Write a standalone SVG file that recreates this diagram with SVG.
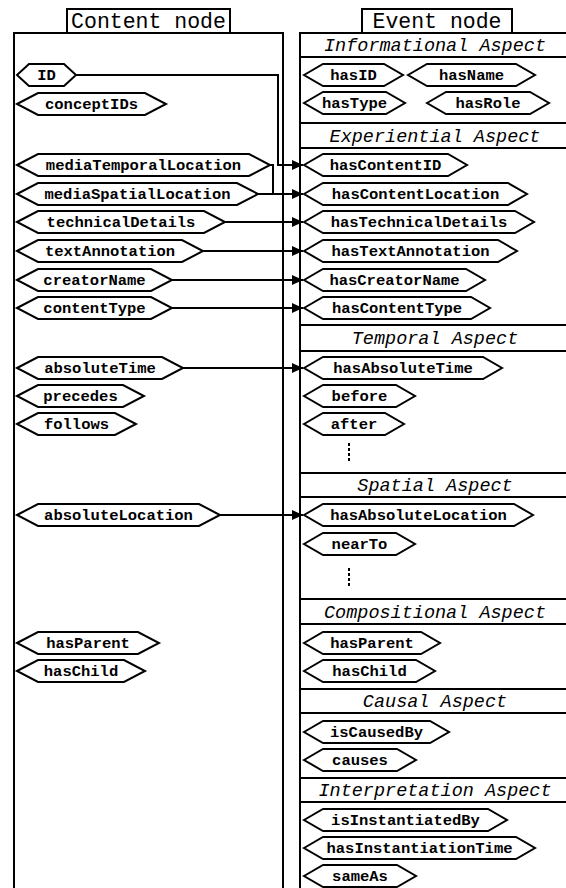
<svg xmlns="http://www.w3.org/2000/svg" width="566" height="888" viewBox="0 0 566 888">
<style>
.box{fill:#fff;stroke:#000;stroke-width:2}
.hx{fill:#fff;stroke:#000;stroke-width:2;stroke-linejoin:miter}
.lb{font-family:"Liberation Mono","Courier New",monospace;font-weight:bold;font-size:15.5px;text-anchor:middle;fill:#000}
.hd{font-family:"Liberation Mono","Courier New",monospace;font-style:italic;font-size:18.5px;text-anchor:middle;fill:#000}
.tt{font-family:"Liberation Mono","Courier New",monospace;font-size:21.5px;text-anchor:middle;fill:#000}
.sep{stroke:#000;stroke-width:2}
.cn{fill:none;stroke:#000;stroke-width:2}
.dot{stroke:#000;stroke-width:2;stroke-dasharray:3 2}
</style>
<defs>
<marker id="ah" markerUnits="userSpaceOnUse" markerWidth="11" markerHeight="10" refX="11" refY="5" orient="auto">
<path d="M0,0 L11,5 L0,10 z" fill="#000"/>
</marker>
</defs>
<rect width="566" height="888" fill="#fff"/>

<g id="content-node">
<rect class="box" x="14" y="33" width="269" height="870"/>
<rect class="box" x="67" y="9" width="163" height="24"/>
<text class="tt" x="148.5" y="27.5">Content node</text>
</g>

<g id="event-node">
<rect class="box" x="300" y="33" width="280" height="870"/>
<rect class="box" x="362" y="9" width="150" height="24"/>
<text class="tt" x="437" y="27.5">Event node</text>
<line class="sep" x1="300" y1="57" x2="566" y2="57"/>
<line class="sep" x1="300" y1="123" x2="566" y2="123"/>
<line class="sep" x1="300" y1="148" x2="566" y2="148"/>
<line class="sep" x1="300" y1="325" x2="566" y2="325"/>
<line class="sep" x1="300" y1="351" x2="566" y2="351"/>
<line class="sep" x1="300" y1="473" x2="566" y2="473"/>
<line class="sep" x1="300" y1="497" x2="566" y2="497"/>
<line class="sep" x1="300" y1="599" x2="566" y2="599"/>
<line class="sep" x1="300" y1="624" x2="566" y2="624"/>
<line class="sep" x1="300" y1="689" x2="566" y2="689"/>
<line class="sep" x1="300" y1="713" x2="566" y2="713"/>
<line class="sep" x1="300" y1="778" x2="566" y2="778"/>
<line class="sep" x1="300" y1="802" x2="566" y2="802"/>
<text class="hd" x="435" y="51">Informational Aspect</text>
<text class="hd" x="435" y="141.5">Experiential Aspect</text>
<text class="hd" x="435" y="344">Temporal Aspect</text>
<text class="hd" x="435" y="491">Spatial Aspect</text>
<text class="hd" x="435" y="617.5">Compositional Aspect</text>
<text class="hd" x="435" y="707">Causal Aspect</text>
<text class="hd" x="435" y="796">Interpretation Aspect</text>
<line class="dot" x1="349" y1="443" x2="349" y2="463"/>
<line class="dot" x1="349" y1="568" x2="349" y2="588"/>
</g>

<g id="connectors">
<path class="cn" d="M76,75 H278 V165 H303" marker-end="url(#ah)"/>
<path class="cn" d="M270,165 H273 V194"/>
<path class="cn" d="M258,194 H303" marker-end="url(#ah)"/>
<path class="cn" d="M225,222 H303" marker-end="url(#ah)"/>
<path class="cn" d="M203,251 H303" marker-end="url(#ah)"/>
<path class="cn" d="M172,280 H303" marker-end="url(#ah)"/>
<path class="cn" d="M172,308 H303" marker-end="url(#ah)"/>
<path class="cn" d="M183,368 H303" marker-end="url(#ah)"/>
<path class="cn" d="M220,515 H303" marker-end="url(#ah)"/>
</g>

<g id="c-ID"><polygon class="hx" points="17,75 29,64 64,64 76,75 64,86 29,86"/><text class="lb" x="46.5" y="80">ID</text></g>
<g id="c-conceptIDs"><polygon class="hx" points="17,104 38,93 145,93 166,104 145,115 38,115"/><text class="lb" x="91.5" y="109">conceptIDs</text></g>
<g id="c-mediaTemporalLocation"><polygon class="hx" points="17,165 38,154 249,154 270,165 249,176 38,176"/><text class="lb" x="143.5" y="170">mediaTemporalLocation</text></g>
<g id="c-mediaSpatialLocation"><polygon class="hx" points="17,194 38,183 237,183 258,194 237,205 38,205"/><text class="lb" x="137.5" y="199">mediaSpatialLocation</text></g>
<g id="c-technicalDetails"><polygon class="hx" points="17,222 38,211 204,211 225,222 204,233 38,233"/><text class="lb" x="121" y="227">technicalDetails</text></g>
<g id="c-textAnnotation"><polygon class="hx" points="17,251 38,240 182,240 203,251 182,262 38,262"/><text class="lb" x="110" y="256">textAnnotation</text></g>
<g id="c-creatorName"><polygon class="hx" points="17,280 38,269 151,269 172,280 151,291 38,291"/><text class="lb" x="94.5" y="285">creatorName</text></g>
<g id="c-contentType"><polygon class="hx" points="17,308 38,297 151,297 172,308 151,319 38,319"/><text class="lb" x="94.5" y="313">contentType</text></g>
<g id="c-absoluteTime"><polygon class="hx" points="17,368 38,357 162,357 183,368 162,379 38,379"/><text class="lb" x="100" y="373">absoluteTime</text></g>
<g id="c-precedes"><polygon class="hx" points="17,396 38,385 123,385 144,396 123,407 38,407"/><text class="lb" x="80.5" y="401">precedes</text></g>
<g id="c-follows"><polygon class="hx" points="17,424 38,413 115,413 136,424 115,435 38,435"/><text class="lb" x="76.5" y="429">follows</text></g>
<g id="c-absoluteLocation"><polygon class="hx" points="17,515 38,504 199,504 220,515 199,526 38,526"/><text class="lb" x="118.5" y="520">absoluteLocation</text></g>
<g id="c-hasParent"><polygon class="hx" points="17,643 38,632 138,632 159,643 138,654 38,654"/><text class="lb" x="88" y="648">hasParent</text></g>
<g id="c-hasChild"><polygon class="hx" points="17,671 38,660 124,660 145,671 124,682 38,682"/><text class="lb" x="81" y="676">hasChild</text></g>

<g id="e-hasID"><polygon class="hx" points="304,75 323,64 384,64 403,75 384,86 323,86"/><text class="lb" x="353.5" y="80">hasID</text></g>
<g id="e-hasName"><polygon class="hx" points="408,75 427,64 516,64 535,75 516,86 427,86"/><text class="lb" x="471.5" y="80">hasName</text></g>
<g id="e-hasType"><polygon class="hx" points="304,103 323,92 386,92 405,103 386,114 323,114"/><text class="lb" x="354.5" y="108">hasType</text></g>
<g id="e-hasRole"><polygon class="hx" points="427,103 446,92 530,92 549,103 530,114 446,114"/><text class="lb" x="488" y="108">hasRole</text></g>
<g id="e-hasContentID"><polygon class="hx" points="304,165 323,154 448,154 467,165 448,176 323,176"/><text class="lb" x="385.5" y="170">hasContentID</text></g>
<g id="e-hasContentLocation"><polygon class="hx" points="304,194 323,183 508,183 527,194 508,205 323,205"/><text class="lb" x="415.5" y="199">hasContentLocation</text></g>
<g id="e-hasTechnicalDetails"><polygon class="hx" points="304,222 323,211 515,211 534,222 515,233 323,233"/><text class="lb" x="419" y="227">hasTechnicalDetails</text></g>
<g id="e-hasTextAnnotation"><polygon class="hx" points="304,251 323,240 498,240 517,251 498,262 323,262"/><text class="lb" x="410.5" y="256">hasTextAnnotation</text></g>
<g id="e-hasCreatorName"><polygon class="hx" points="304,280 323,269 466,269 485,280 466,291 323,291"/><text class="lb" x="394.5" y="285">hasCreatorName</text></g>
<g id="e-hasContentType"><polygon class="hx" points="304,308 323,297 471,297 490,308 471,319 323,319"/><text class="lb" x="397" y="313">hasContentType</text></g>
<g id="e-hasAbsoluteTime"><polygon class="hx" points="304,368 323,357 483,357 502,368 483,379 323,379"/><text class="lb" x="403" y="373">hasAbsoluteTime</text></g>
<g id="e-before"><polygon class="hx" points="304,396 323,385 396,385 415,396 396,407 323,407"/><text class="lb" x="359.5" y="401">before</text></g>
<g id="e-after"><polygon class="hx" points="304,424 323,413 385,413 404,424 385,435 323,435"/><text class="lb" x="354" y="429">after</text></g>
<g id="e-hasAbsoluteLocation"><polygon class="hx" points="304,515 323,504 514,504 533,515 514,526 323,526"/><text class="lb" x="418.5" y="520">hasAbsoluteLocation</text></g>
<g id="e-nearTo"><polygon class="hx" points="304,544 323,533 396,533 415,544 396,555 323,555"/><text class="lb" x="359.5" y="549">nearTo</text></g>
<g id="e-hasParent"><polygon class="hx" points="304,643 323,632 421,632 440,643 421,654 323,654"/><text class="lb" x="372" y="648">hasParent</text></g>
<g id="e-hasChild"><polygon class="hx" points="304,671 323,660 416,660 435,671 416,682 323,682"/><text class="lb" x="369.5" y="676">hasChild</text></g>
<g id="e-isCausedBy"><polygon class="hx" points="304,732 323,721 430,721 449,732 430,743 323,743"/><text class="lb" x="376.5" y="737">isCausedBy</text></g>
<g id="e-causes"><polygon class="hx" points="304,760 323,749 397,749 416,760 397,771 323,771"/><text class="lb" x="360" y="765">causes</text></g>
<g id="e-isInstantiatedBy"><polygon class="hx" points="304,820 323,809 488,809 507,820 488,831 323,831"/><text class="lb" x="405.5" y="825">isInstantiatedBy</text></g>
<g id="e-hasInstantiationTime"><polygon class="hx" points="304,848 323,837 516,837 535,848 516,859 323,859"/><text class="lb" x="419.5" y="853">hasInstantiationTime</text></g>
<g id="e-sameAs"><polygon class="hx" points="304,876 323,865 397,865 416,876 397,887 323,887"/><text class="lb" x="360" y="881">sameAs</text></g>
</svg>
